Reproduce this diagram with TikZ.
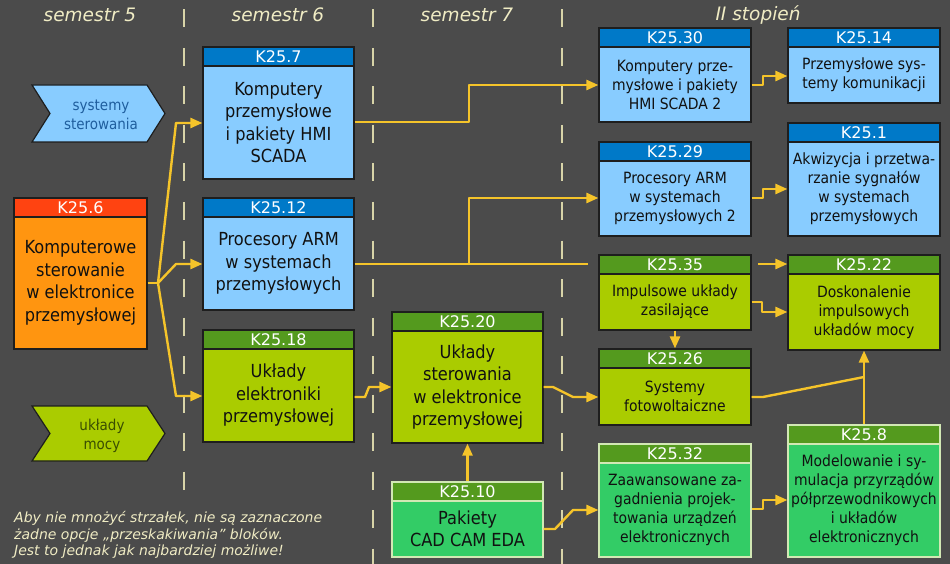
\documentclass[tikz,border=0pt]{standalone}
\usepackage{fontspec}
\setmainfont{DejaVu Sans}
\newfontfamily\condf{DejaVu Sans Condensed}
\usetikzlibrary{arrows.meta}
\definecolor{bg}{HTML}{4B4B4B}
\definecolor{dashc}{HTML}{D8D4A8}
\definecolor{titc}{HTML}{F0ECC4}
\definecolor{arrc}{HTML}{F5C42A}
\definecolor{bord}{HTML}{1E1E1E}
\definecolor{mintbord}{HTML}{D2E8B4}
\definecolor{bhead}{HTML}{0079C8}
\definecolor{bbody}{HTML}{88CCFF}
\definecolor{ohead}{HTML}{FF4311}
\definecolor{obody}{HTML}{FF9510}
\definecolor{ghead}{HTML}{549A1E}
\definecolor{gbody}{HTML}{AACC00}
\definecolor{mbody}{HTML}{33CC66}
\definecolor{txt}{HTML}{111111}
\definecolor{chevblue}{HTML}{1F5E9E}
\definecolor{chevgreen}{HTML}{3A4E00}
\tikzset{
  kb/.style={rectangle,inner sep=0pt,line width=1.2pt},
  kh/.style={rectangle,inner sep=0pt,minimum height=19pt,line width=1.2pt,text=white,
    font=\fontsize{16}{19}\selectfont,text height=11.7pt,text depth=0pt},
  blue/.style={fill=bbody,draw=bord}, blueh/.style={fill=bhead,draw=bord},
  orange/.style={fill=obody,draw=bord}, orangeh/.style={fill=ohead,draw=bord},
  lime/.style={fill=gbody,draw=bord}, limeh/.style={fill=ghead,draw=bord},
  mint/.style={fill=mbody,draw=mintbord}, minth/.style={fill=ghead,draw=mintbord},
  bigt/.style={font=\condf\fontsize{18}{22.5}\selectfont,align=center,text=txt,inner sep=0pt},
  smallt/.style={font=\condf\fontsize{15.5}{19}\selectfont,align=center,text=txt,inner sep=0pt},
  sepline/.style={draw=dashc,line width=2pt,dash pattern=on 18pt off 20.5pt},
  conn/.style={draw=arrc,line width=2.4pt,line join=round},
  arr/.style={conn,-{Triangle[length=12pt,width=10pt]}},
  titl/.style={font=\fontsize{18.5}{22}\selectfont\itshape,text=titc,inner sep=0pt},
  chevb/.style={line width=1.2pt,draw=bord},
  chevt/.style={font=\condf\fontsize{15}{19}\selectfont,align=center,inner sep=0pt}
}
\newcommand\kbox[9]{%
  \node[kb,#2,minimum width={#5-#3},minimum height={#6-#4}] (#1) at ({(#3+#5)/2},{(#4+#6)/2}) {};
  \node[kh,#2h,minimum width={#5-#3}] (#1h) at ({(#3+#5)/2},{#4+9.5}) {#7};
  \node[#8] (#1t) at ({(#3+#5)/2},{(#4+19+#6)/2}) {#9};
}
\begin{document}
\begin{tikzpicture}[x=1pt,y=-1pt]
\fill[bg] (0,0) rectangle (950,564);
\useasboundingbox (0,0) rectangle (950,564);

% separators
\draw[sepline] (184,9.5) -- (184,492);
\foreach \x in {373,562} \draw[sepline] (\x,9.5) -- (\x,564);

% titles
\node[titl] (t5) at (90,15) {semestr 5};
\node[titl] (t6) at (278,15) {semestr 6};
\node[titl] (t7) at (467,15) {semestr 7};
\node[titl] (t2) at (758,15) {II stopień};

% chevrons
\draw[chevb,fill=bbody] (32,85) -- (147,85) -- (165,113.5) -- (147,142) -- (32,142) -- (50,113.5) -- cycle;
\node[chevt,text=chevblue] (sys) at (101,114.5) {systemy\\sterowania};
\draw[chevb,fill=gbody] (32,406) -- (147,406) -- (165,433.5) -- (147,461) -- (32,461) -- (50,433.5) -- cycle;
\node[chevt,text=chevgreen] (moc) at (102,436) {układy\\mocy};

% boxes
\kbox{k6}{orange}{14}{198}{147}{349}{K25.6}{bigt}{Komputerowe\\sterowanie\\w elektronice\\przemysłowej}
\kbox{k7}{blue}{203}{47}{354}{179}{K25.7}{bigt}{Komputery\\przemysłowe\\i pakiety HMI\\SCADA}
\kbox{k12}{blue}{203}{198}{354}{310}{K25.12}{bigt}{Procesory ARM\\w systemach\\przemysłowych}
\kbox{k18}{lime}{203}{330}{354}{442}{K25.18}{bigt}{Układy\\elektroniki\\przemysłowej}
\kbox{k20}{lime}{392}{312}{543}{443}{K25.20}{bigt}{Układy\\sterowania\\w elektronice\\przemysłowej}
\kbox{k10}{mint}{392}{482}{543}{557}{K25.10}{bigt}{Pakiety\\CAD CAM EDA}
\kbox{k30}{blue}{599}{28}{751}{122}{K25.30}{smallt}{Komputery prze-\\mysłowe i pakiety\\HMI SCADA 2}
\kbox{k14}{blue}{788}{28}{940}{103}{K25.14}{smallt}{Przemysłowe sys-\\temy komunikacji}
\kbox{k29}{blue}{599}{142}{751}{236}{K25.29}{smallt}{Procesory ARM\\w systemach\\przemysłowych 2}
\kbox{k1}{blue}{788}{123}{940}{236}{K25.1}{smallt}{Akwizycja i przetwa-\\rzanie sygnałów\\w systemach\\przemysłowych}
\kbox{k35}{lime}{599}{255}{751}{330}{K25.35}{smallt}{Impulsowe układy\\zasilające}
\kbox{k22}{lime}{788}{255}{940}{350}{K25.22}{smallt}{Doskonalenie\\impulsowych\\układów mocy}
\kbox{k26}{lime}{599}{349}{751}{425}{K25.26}{smallt}{Systemy\\fotowoltaiczne}
\kbox{k32}{mint}{599}{444}{751}{557}{K25.32}{smallt}{Zaawansowane za-\\gadnienia projek-\\towania urządzeń\\elektronicznych}
\kbox{k8}{mint}{788}{425}{940}{557}{K25.8}{smallt}{Modelowanie i sy-\\mulacja przyrządów\\półprzewodnikowych\\i układów\\elektronicznych}

% connectors
\coordinate (j6) at (158,283);
\draw[conn] (k6.east |- 0,283) -- (j6);
\draw[arr] (j6) -- (176,123) -- (k7.west |- 0,123);
\draw[arr] (j6) -- (176,264) -- (k12.west |- 0,264);
\draw[arr] (j6) -- (176,396) -- (k18.west |- 0,396);

\draw[arr] (k7.east |- 0,122) -- (469,122) -- (469,85) -- (k30.west |- 0,85);
\coordinate (e12) at (588,264);
\coordinate (j12) at (469,264);
\draw[conn] (k12.east |- 0,264) -- (e12);
\draw[arr] (j12) -- (469,198) -- (k29.west |- 0,198);
\coordinate (s22) at (758,264);
\draw[arr] (s22) -- (k22.west |- 0,264);

\draw[arr] (k30.east |- 0,85) -- (763,85) -- (763,76) -- (k14.west |- 0,76);
\draw[arr] (k29.east |- 0,198) -- (763,198) -- (763,189) -- (k1.west |- 0,189);

\draw[arr] (k18.east |- 0,397) -- (365,397) -- (369,387) -- (k20.west |- 0,387);
\draw[arr] (k20.east |- 0,387) -- (553,387) -- (573,397) -- (k26.west |- 0,397);
\draw[arr] (k10.east |- 0,529) -- (555,529) -- (573,510) -- (k32.west |- 0,510);
\draw[arr] (k10.north) -- (k20.south);

\draw[arr] (k35.south) -- (k26.north);
\draw[arr] (k35.east |- 0,302) -- (762,302) -- (762,312) -- (k22.west |- 0,312);
\draw[arr] (k32.east |- 0,509) -- (763,509) -- (763,500) -- (k8.west |- 0,500);
\draw[arr] (k8.north) -- (k22.south);
\draw[conn] (k26.east |- 0,397) -- (763,397) -- (k8.north |- 0,377);

% footnote
\node[font=\fontsize{14}{16.7}\selectfont\itshape,text=titc,align=left,anchor=west,inner sep=0pt] (note) at (14,535)
  {Aby nie mnożyć strzałek, nie są zaznaczone\\żadne opcje „przeskakiwania” bloków.\\Jest to jednak jak najbardziej możliwe!};
\end{tikzpicture}
\end{document}
